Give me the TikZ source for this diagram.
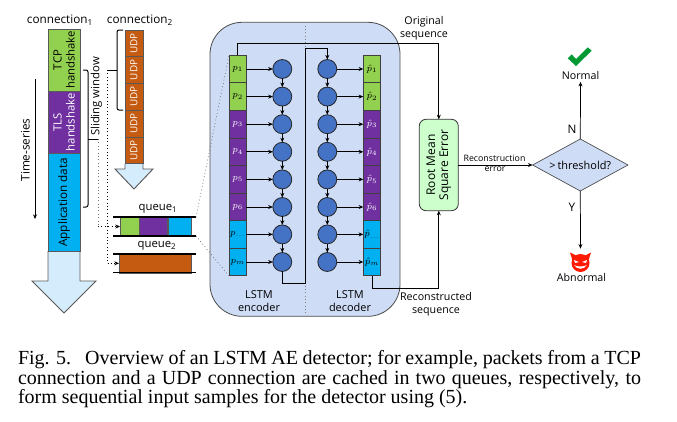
\documentclass[tikz,border=0pt]{standalone}
\usepackage{fontspec}
\setmainfont{Open Sans}
\newfontfamily\capfont{Liberation Serif}
\usetikzlibrary{arrows.meta,shapes.geometric}

\definecolor{tcpgreen}{HTML}{92D050}
\definecolor{tlspurple}{HTML}{7030A0}
\definecolor{appblue}{HTML}{00B0F0}
\definecolor{udporange}{HTML}{C55A11}
\definecolor{tailblue}{HTML}{D5ECFC}
\definecolor{lstmblue}{HTML}{CEDCF5}
\definecolor{cellblue}{HTML}{4472C4}
\definecolor{rmsegreen}{HTML}{CCFFCC}

\tikzset{
  every node/.style={font=\fontsize{8.2}{9.75}\selectfont, inner sep=0pt, outer sep=0pt},
  wire/.style={-{Stealth[length=3.5pt,width=3pt]}, line width=.55pt},
  plainwire/.style={line width=.55pt},
  dotwire/.style={dotted, line width=.55pt},
  rail/.style={line width=.9pt},
  bracket/.style={line width=.75pt, rounded corners=1.5pt},
  tail/.style={draw=black!65, fill=tailblue, line width=.7pt},
  seg/.style={draw=black!65, line width=.5pt, rotate=90, align=center, text=black},
  pkt/.style={draw=black!75, line width=.5pt, minimum width=13.1pt, minimum height=20.7pt, font=\fontsize{7.2}{8}\selectfont},
  cell/.style={circle, draw=black!85, fill=cellblue, line width=.6pt, minimum size=14.2pt},
}

\begin{document}
\begin{tikzpicture}[x=.75pt, y=-.75pt]
\useasboundingbox (0,0) rectangle (677,421);

\draw[tail] (48,251) -- (48,281) -- (32,281) -- (64,313) -- (96,281) -- (80,281) -- (80,251);
\draw[tail] (125,164) -- (125,169) -- (115,169) -- (134,189) -- (153,169) -- (143,169) -- (143,164);

\node (conn1) at (60,20) {\fontsize{8.8}{9}\selectfont connection\textsubscript{1}};
\node (conn2) at (140,20) {\fontsize{8.8}{9}\selectfont connection\textsubscript{2}};
\node[seg, fill=tcpgreen, minimum width=46.5pt, minimum height=24pt] (tcp) at (64,60) {\fontsize{8.5}{9.75}\selectfont TCP\\\fontsize{8.5}{9.75}\selectfont handshake};
\node[seg, fill=tlspurple, text=white, minimum width=46.9pt, minimum height=24pt] (tls) at (64,122.3) {\fontsize{8.5}{9.75}\selectfont TLS\\\fontsize{8.5}{9.75}\selectfont handshake};
\node[seg, fill=appblue, minimum width=73.1pt, minimum height=24pt] (app) at (64,202.3) {\fontsize{8.8}{9.75}\selectfont Application data};
\foreach \i/\y in {1/43.4,2/70,3/96.8,4/123.5,5/150.4}
  \node[seg, fill=udporange, text=white, minimum width=20pt, minimum height=13.5pt] (udp\i) at (134,\y) {\fontsize{7.4}{8}\selectfont UDP};

\node[rotate=90] (timelabel) at (25.5,150) {\fontsize{8.8}{9}\selectfont Time-series};
\coordinate (timetop) at (35,79);
\coordinate (timeend) at (35,219);
\draw[wire] (timetop) -- (timeend);

\node[rotate=90] (windowlabel) at (96.5,96.5) {\fontsize{8.5}{9}\selectfont Sliding window};
\draw[bracket] (83,70) -- (88,70) -- (88,207) -- (83,207);
\draw[bracket] (123,30) -- (117,30) -- (117,110) -- (123,110);
\coordinate (winone) at (98,139);
\coordinate (wintwo) at (107,70);
\draw[plainwire] (88,139) -- (winone);
\draw[plainwire] (117,70) -- (wintwo);

\node (q1label) at (158,209) {\fontsize{8.5}{9}\selectfont queue\textsubscript{1}};
\node (q2label) at (157,246) {\fontsize{8.5}{9}\selectfont queue\textsubscript{2}};
\node[draw=black!65, fill=tcpgreen, minimum width=14.25pt, minimum height=14.25pt] (qa) at (129.5,226.5) {};
\node[draw=black!65, fill=tlspurple, minimum width=21.4pt, minimum height=14.25pt] (qb) at (153.3,226.5) {};
\node[draw=black!65, fill=appblue, minimum width=17.6pt, minimum height=14.25pt] (qc) at (179.7,226.5) {};
\node[draw=black!65, fill=udporange, minimum width=54pt, minimum height=14.25pt] (qd) at (155,263.3) {};
\draw[rail] (113,217) -- (196,217);
\draw[rail] (113,236) -- (196,236);
\draw[rail] (113,254) -- (196,254);
\draw[rail] (113,272.5) -- (196,272.5);
\draw[dotwire, black!55] (winone) -- (winone |- qa.west);
\draw[dotwire, -{Stealth[length=3.5pt,width=3pt]}] (winone |- qa.west) -- (qa.west);
\draw[dotwire, -{Stealth[length=3.5pt,width=3pt]}] (wintwo) |- (qd.west);

\node[draw=black!70, fill=lstmblue, line width=.6pt, rounded corners=24pt, minimum width=142.5pt, minimum height=220.5pt] (lstm) at (305,169.3) {};
\draw[dotted, black!50, line width=.5pt] (lstm.north) -- (lstm.south);

\foreach \i/\y/\col/\txt/\sub in {1/69/tcpgreen/black/1,2/96.6/tcpgreen/black/2,3/124.2/tlspurple/white/3,4/151.8/tlspurple/white/4,5/179.4/tlspurple/white/5,6/207/tlspurple/white/6,7/234.4/appblue/black/{...},8/262/appblue/black/m}{
  \node[pkt, fill=\col, text=\txt] (p\i) at (237.7,\y) {$p_{\sub}$};
  \node[pkt, fill=\col, text=\txt] (o\i) at (372,\y) {$\hat{p}_{\sub}$};
  \node[cell] (e\i) at (282.3,\y) {};
  \node[cell] (d\i) at (327.3,\y) {};
  \draw[wire] (p\i) -- (e\i);
  \draw[wire] (d\i) -- (o\i);
}
\foreach \i/\j in {1/2,2/3,3/4,4/5,5/6,6/7,7/8}{
  \draw[wire] (e\i) -- (e\j);
  \draw[wire] (d\i) -- (d\j);
}

\coordinate (bridgelow) at (305,283);
\coordinate (bridgetop) at (305,48.7);
\draw[plainwire] (e8.south) |- (bridgelow) -- (bridgetop);
\draw[wire] (bridgetop) -| (d1.north);

\node[align=center] (enclabel) at (259,301.5) {LSTM\\encoder};
\node[align=center] (declabel) at (350,301.5) {LSTM\\decoder};

\draw[dotwire, black!60] (196,217) -- (p1.north west);
\draw[dotwire, black!60] (196,236) -- (p8.south west);

\node[draw=black!80, fill=rmsegreen, line width=.6pt, rounded corners=5pt, rotate=90, align=center, minimum width=68.5pt, minimum height=29.2pt] (rmse) at (438.8,165) {\fontsize{9}{10}\selectfont Root Mean\\\fontsize{9}{10}\selectfont Square Error};
\draw[wire] (p1.north) |- (438.8,43.4) -- (rmse.east);
\draw[wire] (o8.south) |- (438.8,288.3) -- (rmse.west);
\node[align=center] (origlabel) at (424,28.5) {\fontsize{8}{9.75}\selectfont Original\\\fontsize{8}{9.75}\selectfont sequence};
\node[align=center] (reclabel) at (436,304) {\fontsize{8}{9.75}\selectfont Reconstructed\\\fontsize{8}{9.75}\selectfont sequence};

\node[diamond, draw=black!70, fill=lstmblue, line width=.5pt, aspect=1.83, minimum width=71.5pt, minimum height=39pt] (cond) at (580.3,165) {>\,threshold?};
\draw[wire] (rmse.south) -- (cond.west);
\node (errlabel) at (494.5,158) {\fontsize{6.6}{7}\selectfont Reconstruction};
\node (errlabel2) at (495,169.5) {\fontsize{6.6}{7}\selectfont error};

\node (normal) at (580.5,75) {\fontsize{8}{9}\selectfont Normal};
\node (abnormal) at (581.5,277) {\fontsize{8}{9}\selectfont Abnormal};
\node[circle, fill=red!80!orange, minimum size=13.5pt] (devil) at (580.5,263) {};
\draw[wire, shorten >=2pt] (cond.north) -- (normal.south);
\draw[wire, shorten >=4pt] (cond.south) -- (devil.north);
\node (nlabel) at (572,129) {\fontsize{8.8}{9}\selectfont N};
\node (ylabel) at (572,207) {\fontsize{8.8}{9}\selectfont Y};

\fill[green!50!black!80!cyan] (567.7,58.3) -- (576,66) -- (591.7,50.7) -- (587.7,47.3) -- (576,59) -- (571.7,54.3) -- cycle;
\fill[red!80!orange] (570,252.5) -- (577,256) -- (573,262) -- cycle;
\fill[red!80!orange] (591,252.5) -- (584,256) -- (588,262) -- cycle;
\fill[white] (574,260) -- (579,262) -- (575,263) -- cycle;
\fill[white] (587,260) -- (582,262) -- (586,263) -- cycle;
\fill[white] (574,265) .. controls (577,270) and (584,270) .. (587,265) .. controls (584,267) and (577,267) .. (574,265);

\node[anchor=north west, text width=467.25pt, align=justify] (caption) at (18,350.5) {\capfont\fontsize{15}{15.75}\selectfont Fig. 5.\hspace{.7em}Overview of an LSTM AE detector; for example, packets from a TCP\linebreak connection and a UDP connection are cached in two queues, respectively, to\linebreak form sequential input samples for the detector using (5).};
\end{tikzpicture}
\end{document}
